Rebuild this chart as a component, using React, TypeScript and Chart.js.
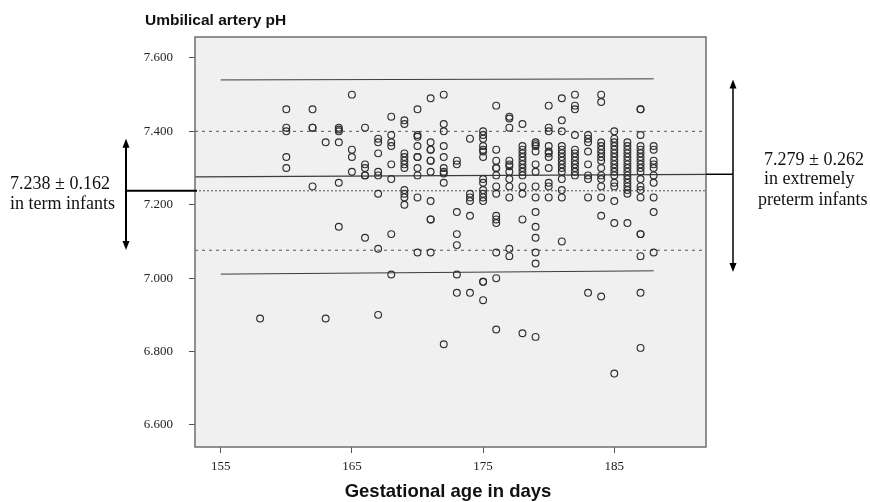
import { useEffect, useRef } from "react";
import { Chart, registerables } from "chart.js";

Chart.register(...registerables);

// ---- data ----
const days = [158, 160, 162, 163, 164, 165, 166, 167, 168, 169, 170, 171, 172, 173, 174, 175, 176, 177, 178, 179, 180, 181, 182, 183, 184, 185, 186, 187, 188];
const phByDay = [
  [6.89],
  [7.46, 7.41, 7.40, 7.33, 7.30],
  [7.46, 7.41, 7.41, 7.25],
  [7.37, 6.89],
  [7.41, 7.405, 7.40, 7.37, 7.26, 7.14],
  [7.50, 7.35, 7.33, 7.29],
  [7.41, 7.31, 7.30, 7.28, 7.28, 7.11],
  [7.38, 7.37, 7.34, 7.29, 7.28, 7.23, 7.08, 6.90],
  [7.44, 7.39, 7.37, 7.36, 7.31, 7.27, 7.12, 7.01],
  [7.43, 7.42, 7.34, 7.33, 7.32, 7.31, 7.30, 7.24, 7.23, 7.22, 7.20],
  [7.46, 7.39, 7.385, 7.36, 7.33, 7.33, 7.30, 7.28, 7.22, 7.07],
  [7.49, 7.37, 7.35, 7.35, 7.32, 7.32, 7.29, 7.21, 7.16, 7.16, 7.07],
  [7.50, 7.42, 7.40, 7.36, 7.33, 7.30, 7.29, 7.285, 7.26, 6.82],
  [7.32, 7.31, 7.18, 7.12, 7.09, 7.01, 6.96],
  [7.38, 7.23, 7.22, 7.21, 7.17, 6.96],
  [7.40, 7.39, 7.38, 7.36, 7.35, 7.345, 7.33, 7.27, 7.26, 7.24, 7.23, 7.22, 7.21, 6.99, 6.99, 6.94],
  [7.47, 7.35, 7.32, 7.30, 7.30, 7.28, 7.25, 7.23, 7.17, 7.16, 7.15, 7.07, 7.00, 6.86],
  [7.44, 7.435, 7.41, 7.32, 7.31, 7.305, 7.29, 7.27, 7.25, 7.22, 7.08, 7.06],
  [7.42, 7.36, 7.35, 7.34, 7.33, 7.32, 7.31, 7.30, 7.29, 7.28, 7.25, 7.23, 7.16, 6.85],
  [7.37, 7.365, 7.36, 7.345, 7.31, 7.29, 7.25, 7.22, 7.18, 7.14, 7.11, 7.07, 7.04, 6.84],
  [7.47, 7.41, 7.40, 7.36, 7.345, 7.34, 7.33, 7.30, 7.26, 7.25, 7.22],
  [7.49, 7.43, 7.40, 7.36, 7.35, 7.34, 7.33, 7.32, 7.31, 7.30, 7.29, 7.27, 7.24, 7.22, 7.10],
  [7.50, 7.47, 7.46, 7.39, 7.35, 7.34, 7.33, 7.32, 7.31, 7.30, 7.29, 7.28],
  [7.39, 7.38, 7.37, 7.345, 7.31, 7.28, 7.27, 7.22, 6.96],
  [7.50, 7.48, 7.37, 7.36, 7.35, 7.34, 7.33, 7.32, 7.30, 7.28, 7.27, 7.25, 7.22, 7.17, 6.95],
  [7.40, 7.38, 7.37, 7.36, 7.35, 7.34, 7.33, 7.32, 7.31, 7.30, 7.29, 7.28, 7.26, 7.25, 7.21, 7.15, 6.74],
  [7.37, 7.36, 7.35, 7.34, 7.33, 7.32, 7.31, 7.30, 7.29, 7.28, 7.27, 7.26, 7.25, 7.24, 7.23, 7.15],
  [7.46, 7.46, 7.39, 7.36, 7.35, 7.34, 7.33, 7.32, 7.31, 7.30, 7.29, 7.27, 7.25, 7.24, 7.22, 7.12, 7.12, 7.06, 6.96, 6.81],
  [7.36, 7.35, 7.32, 7.31, 7.30, 7.28, 7.26, 7.22, 7.18, 7.07],
];

const X_MIN = 153.04;
const X_MAX = 191.99;
const Y_MIN = 6.54;
const Y_MAX = 7.657;
const xTicks = [155, 165, 175, 185];
const yTicks = [6.6, 6.8, 7.0, 7.2, 7.4, 7.6];

// preterm regression line and band
const fullX = [X_MIN, X_MAX];
const meanLine = [7.276, 7.283];
const bandX = [155, 188];
const upperBand = [7.540, 7.543];
const lowerBand = [7.011, 7.020];
// term infants mean ± SD
const termMean = 7.238;
const termUpper = 7.400;
const termLower = 7.076;
const termArrow = [7.38, 7.077];
const pretermArrow = [7.541, 7.017];
const pretermMean = 7.283;

const yTitle = "Umbilical artery pH";
const xTitle = "Gestational age in days";
const termLabel = ["7.238 ± 0.162", "in term infants"];
const pretermLabel = ["7.279 ± 0.262", "in extremely", "preterm infants"];

function drawArrow(ctx: CanvasRenderingContext2D, x: number, y1: number, y2: number, lw: number) {
  const head = 9;
  const half = 3.5;
  ctx.save();
  ctx.strokeStyle = "#000";
  ctx.fillStyle = "#000";
  ctx.lineWidth = lw;
  ctx.beginPath();
  ctx.moveTo(x, y1 + head - 1);
  ctx.lineTo(x, y2 - head + 1);
  ctx.stroke();
  ctx.beginPath();
  ctx.moveTo(x, y1);
  ctx.lineTo(x - half, y1 + head);
  ctx.lineTo(x + half, y1 + head);
  ctx.closePath();
  ctx.fill();
  ctx.beginPath();
  ctx.moveTo(x, y2);
  ctx.lineTo(x - half, y2 - head);
  ctx.lineTo(x + half, y2 - head);
  ctx.closePath();
  ctx.fill();
  ctx.restore();
}

const decorPlugin = {
  id: "decor",
  beforeDraw(chart: any) {
    const { ctx, chartArea: a } = chart;
    ctx.save();
    ctx.fillStyle = "#f0f0f0";
    ctx.fillRect(a.left, a.top, a.right - a.left, a.bottom - a.top);
    ctx.restore();
  },
  afterDraw(chart: any) {
    const { ctx, chartArea: a } = chart;
    const ys = chart.scales.y;
    ctx.save();
    // frame
    ctx.strokeStyle = "#6e6e6e";
    ctx.lineWidth = 1.5;
    ctx.strokeRect(a.left, a.top, a.right - a.left, a.bottom - a.top);

    // left annotation
    const lx = 126;
    drawArrow(ctx, lx, ys.getPixelForValue(termArrow[0]), ys.getPixelForValue(termArrow[1]), 2);
    ctx.strokeStyle = "#000";
    ctx.lineWidth = 2;
    ctx.beginPath();
    const ty = ys.getPixelForValue(termMean);
    ctx.moveTo(lx, ty);
    ctx.lineTo(a.left + 2, ty);
    ctx.stroke();

    // right annotation
    const rx = 733;
    drawArrow(ctx, rx, ys.getPixelForValue(pretermArrow[0]), ys.getPixelForValue(pretermArrow[1]), 1.5);
    ctx.lineWidth = 1.5;
    ctx.beginPath();
    const py = ys.getPixelForValue(pretermMean);
    ctx.moveTo(a.right, py);
    ctx.lineTo(rx, py);
    ctx.stroke();

    // texts
    ctx.fillStyle = "#111";
    ctx.textBaseline = "alphabetic";
    ctx.textAlign = "left";
    ctx.font = "18px 'Liberation Serif', serif";
    ctx.fillText(termLabel[0], 10, 189);
    ctx.fillText(termLabel[1], 10, 209);
    ctx.fillText(pretermLabel[0], 764, 165);
    ctx.fillText(pretermLabel[1], 764, 184);
    ctx.fillText(pretermLabel[2], 758, 205);

    ctx.font = "bold 15.5px 'Liberation Sans', Arial, sans-serif";
    ctx.fillText(yTitle, 145, 25);
    ctx.textAlign = "center";
    ctx.font = "bold 18.5px 'Liberation Sans', Arial, sans-serif";
    ctx.fillText(xTitle, 448, 497);
    ctx.restore();
  },
};

export default function App() {
  const ref = useRef<HTMLCanvasElement | null>(null);
  useEffect(() => {
    if (!ref.current) return;
    const points: { x: number; y: number }[] = [];
    days.forEach((d, i) => phByDay[i].forEach((v) => points.push({ x: d, y: v })));
    const line = (xs: number[], ys: number[]) => xs.map((x, i) => ({ x, y: ys[i] }));
    const chart = new Chart(ref.current, {
      type: "scatter",
      data: {
        datasets: [
          {
            data: points,
            pointStyle: "circle",
            pointRadius: 3.4,
            borderWidth: 1.15,
            borderColor: "#2e2e2e",
            backgroundColor: "rgba(0,0,0,0)",
          },
          { data: line(fullX, meanLine), showLine: true, pointRadius: 0, borderColor: "#3c3c3c", borderWidth: 1.2 },
          { data: line(bandX, upperBand), showLine: true, pointRadius: 0, borderColor: "#3c3c3c", borderWidth: 1 },
          { data: line(bandX, lowerBand), showLine: true, pointRadius: 0, borderColor: "#3c3c3c", borderWidth: 1 },
          { data: line(fullX, [termUpper, termUpper]), showLine: true, pointRadius: 0, borderColor: "#555", borderWidth: 1, borderDash: [3, 4] },
          { data: line(fullX, [termMean, termMean]), showLine: true, pointRadius: 0, borderColor: "#555", borderWidth: 1, borderDash: [2, 2] },
          { data: line(fullX, [termLower, termLower]), showLine: true, pointRadius: 0, borderColor: "#555", borderWidth: 1, borderDash: [3, 4] },
        ],
      },
      options: {
        responsive: false,
        animation: false,
        layout: { padding: { top: 37, right: 164, bottom: 0, left: 0 } },
        plugins: { legend: { display: false }, tooltip: { enabled: false } },
        scales: {
          x: {
            type: "linear",
            min: X_MIN,
            max: X_MAX,
            afterBuildTicks: (s: any) => {
              s.ticks = xTicks.map((v) => ({ value: v }));
            },
            afterFit: (s: any) => {
              s.height = 55;
            },
            grid: { drawOnChartArea: false, drawTicks: true, tickLength: 6, color: "#555" },
            border: { display: false },
            ticks: {
              font: { family: "'Liberation Serif', serif", size: 13 },
              color: "#222",
              padding: 6,
              maxRotation: 0,
              callback: (v: any) => String(v),
            },
          },
          y: {
            type: "linear",
            min: Y_MIN,
            max: Y_MAX,
            afterBuildTicks: (s: any) => {
              s.ticks = yTicks.map((v) => ({ value: v }));
            },
            afterFit: (s: any) => {
              s.width = 195;
            },
            grid: { drawOnChartArea: false, drawTicks: true, tickLength: 6, color: "#555" },
            border: { display: false },
            ticks: {
              font: { family: "'Liberation Serif', serif", size: 13 },
              color: "#222",
              padding: 16,
              callback: (v: any) => Number(v).toFixed(3),
            },
          },
        },
      },
      plugins: [decorPlugin],
    });
    return () => chart.destroy();
  }, []);
  return (
    <div style={{ position: "absolute", left: 0, top: 0, width: 870, height: 502 }}>
      <canvas ref={ref} width={870} height={502} />
    </div>
  );
}
